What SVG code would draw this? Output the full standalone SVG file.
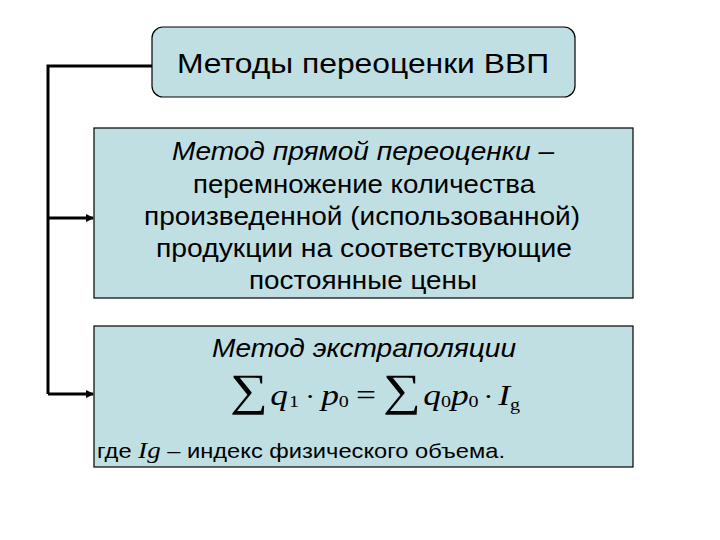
<svg xmlns="http://www.w3.org/2000/svg" width="720" height="540" viewBox="0 0 720 540">
<defs>
<style>
.box{fill:#c0dfe3;stroke:#000;stroke-width:1.2}
.t{font-family:"Liberation Sans",Arial,sans-serif;fill:#000}
.i{font-style:italic}
.m{font-family:"Liberation Serif","Times New Roman",serif;fill:#000}
.c{stroke:#000;stroke-width:3;fill:none}
</style>
<marker id="ah" markerWidth="8" markerHeight="8" refX="7" refY="4" orient="auto" markerUnits="userSpaceOnUse">
<path d="M0,0 L8,4 L0,8 Z" fill="#000"/>
</marker>
</defs>
<rect width="720" height="540" fill="#fff"/>
<g id="connectors">
<path class="c" d="M152,66 H48 V394"/>
<path class="c" d="M48,218 H93" marker-end="url(#ah)"/>
<path class="c" d="M48,394 H93" marker-end="url(#ah)"/>
</g>
<g id="top">
<rect class="box" x="152" y="27" width="423" height="70" rx="11"/>
<text class="t" x="177" y="73" font-size="27" textLength="372" lengthAdjust="spacingAndGlyphs">Методы переоценки ВВП</text>
</g>
<g id="direct">
<rect class="box" x="94" y="128" width="539" height="170"/>
<text class="t i" x="172" y="160" font-size="26" textLength="382" lengthAdjust="spacingAndGlyphs">Метод прямой переоценки –</text>
<text class="t" x="193" y="193" font-size="26" textLength="342" lengthAdjust="spacingAndGlyphs">перемножение количества</text>
<text class="t" x="144" y="225" font-size="26" textLength="436" lengthAdjust="spacingAndGlyphs">произведенной (использованной)</text>
<text class="t" x="156" y="257" font-size="26" textLength="416" lengthAdjust="spacingAndGlyphs">продукции на соответствующие</text>
<text class="t" x="249" y="289" font-size="26" textLength="228" lengthAdjust="spacingAndGlyphs">постоянные цены</text>
</g>
<g id="extrap">
<rect class="box" x="94" y="326" width="539" height="141"/>
<text class="t i" x="212" y="357" font-size="26" textLength="304" lengthAdjust="spacingAndGlyphs">Метод экстраполяции</text>
<g transform="translate(230,0) scale(1.18,1) translate(-230,0)">
<text class="m" y="405"><tspan x="230" font-size="45">∑</tspan><tspan font-size="30" font-style="italic" dx="2">q</tspan><tspan font-size="17" dy="2" dx="1">1</tspan><tspan font-size="26" dy="-2" dx="5">·</tspan><tspan font-size="30" font-style="italic" dx="5">p</tspan><tspan font-size="17" dy="2">0</tspan><tspan font-size="30" dy="-2" dx="6">=</tspan><tspan font-size="45" dx="6">∑</tspan><tspan font-size="30" font-style="italic" dx="2">q</tspan><tspan font-size="17" dy="2">0</tspan><tspan font-size="30" font-style="italic" dy="-2">p</tspan><tspan font-size="17" dy="2">0</tspan><tspan font-size="26" dy="-2" dx="4">·</tspan><tspan font-size="30" font-style="italic" dx="4">I</tspan><tspan font-size="17" dy="5">g</tspan></text>
</g>
<text class="t" x="97" y="458" font-size="21" textLength="408" lengthAdjust="spacingAndGlyphs">где <tspan font-family="Liberation Serif,serif" font-style="italic" font-size="24">Ig</tspan> – индекс физического объема.</text>
</g>
</svg>
